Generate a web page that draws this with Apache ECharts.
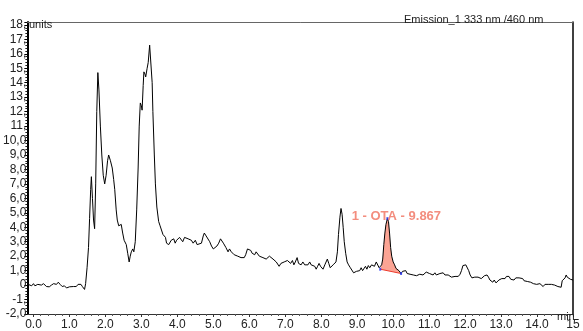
<!DOCTYPE html>
<html>
<head>
<meta charset="utf-8">
<script src="https://cdn.jsdelivr.net/npm/echarts/dist/echarts.min.js"></script>
<style>
html,body{margin:0;padding:0;background:#fff;}
#c{width:583px;height:331px;}
</style>
</head>
<body>
<div id="c"></div>
<script>
// ---- data ----
var times = [-0.15,-0.1,-0.05,0.0,0.04,0.08,0.12,0.17,0.22,0.28,0.32,0.36,0.40,0.44,0.5,0.56,0.6,0.64,0.69,0.74,0.8,0.86,0.92,0.96,1.0,1.05,1.11,1.15,1.19,1.24,1.28,1.32,1.36,1.42,1.45,1.49,1.53,1.56,1.59,1.61,1.64,1.67,1.70,1.73,1.76,1.79,1.82,1.86,1.90,1.94,1.98,2.02,2.06,2.09,2.14,2.19,2.23,2.26,2.30,2.33,2.37,2.40,2.44,2.48,2.52,2.55,2.58,2.62,2.66,2.69,2.72,2.76,2.79,2.83,2.87,2.91,2.94,2.97,3.0,3.02,3.05,3.07,3.10,3.12,3.16,3.19,3.23,3.27,3.30,3.32,3.36,3.39,3.43,3.48,3.52,3.56,3.60,3.64,3.67,3.70,3.72,3.76,3.79,3.83,3.86,3.90,3.94,3.98,4.02,4.06,4.11,4.15,4.2,4.25,4.3,4.35,4.39,4.44,4.5,4.55,4.6,4.67,4.72,4.75,4.8,4.85,4.9,4.95,5.0,5.05,5.1,5.15,5.2,5.24,5.28,5.31,5.35,5.41,5.45,5.5,5.55,5.58,5.63,5.68,5.72,5.77,5.82,5.86,5.9,5.95,6.0,6.04,6.08,6.11,6.15,6.19,6.23,6.28,6.33,6.38,6.43,6.47,6.52,6.56,6.61,6.66,6.7,6.75,6.8,6.83,6.88,6.93,6.97,7.02,7.06,7.11,7.15,7.2,7.24,7.28,7.33,7.37,7.41,7.44,7.49,7.54,7.58,7.63,7.68,7.72,7.77,7.82,7.86,7.9,7.94,7.98,8.02,8.05,8.1,8.14,8.17,8.21,8.25,8.28,8.33,8.37,8.41,8.45,8.48,8.52,8.55,8.58,8.61,8.64,8.68,8.72,8.76,8.81,8.85,8.9,8.94,8.98,9.03,9.07,9.11,9.15,9.19,9.23,9.27,9.31,9.35,9.4,9.44,9.48,9.53,9.57,9.61,9.64,9.68,9.71,9.74,9.77,9.80,9.84,9.87,9.90,9.93,9.96,10.0,10.04,10.08,10.12,10.16,10.22,10.26,10.31,10.35,10.39,10.42,10.47,10.52,10.56,10.6,10.65,10.69,10.74,10.78,10.83,10.88,10.92,10.97,11.01,11.06,11.11,11.16,11.2,11.25,11.3,11.34,11.39,11.44,11.48,11.53,11.58,11.62,11.67,11.72,11.77,11.81,11.86,11.9,11.94,11.98,12.02,12.06,12.1,12.14,12.19,12.23,12.27,12.32,12.36,12.41,12.45,12.5,12.54,12.58,12.61,12.65,12.69,12.72,12.77,12.81,12.86,12.9,12.94,12.97,13.02,13.06,13.11,13.15,13.19,13.22,13.27,13.32,13.36,13.41,13.46,13.5,13.55,13.6,13.64,13.69,13.73,13.78,13.82,13.86,13.9,13.95,13.99,14.03,14.08,14.12,14.17,14.22,14.26,14.31,14.35,14.4,14.44,14.49,14.53,14.58,14.62,14.67,14.7,14.74,14.78,14.81,14.84,14.88,14.93,14.97,15.0];
var signal = [0.05,0.0,-0.05,0.1,-0.05,-0.1,0.05,0.12,0.0,0.1,0.0,-0.1,-0.05,-0.12,0.0,0.1,0.0,0.05,0.2,0.05,-0.1,-0.05,-0.2,-0.1,-0.12,0.0,-0.1,0.0,-0.1,0.05,0.0,0.05,-0.1,-0.3,0.1,1.2,2.6,4.6,6.6,7.5,6.0,4.5,3.9,7.0,12.0,14.7,13.5,11.0,9.0,7.6,7.0,7.6,8.6,9.0,8.6,8.1,7.3,6.6,5.2,4.5,4.1,4.0,4.2,3.6,3.1,3.0,2.8,2.2,1.6,2.0,2.3,2.5,2.3,3.0,5.2,8.1,11.0,12.6,12.4,12.1,13.8,14.75,14.6,14.4,15.0,15.4,16.6,16.6,14.0,12.0,9.0,7.0,5.4,4.4,4.1,4.0,3.5,3.4,3.3,2.9,3.0,2.8,2.9,3.1,3.0,3.2,2.9,3.1,3.0,3.3,3.2,3.0,3.3,3.4,3.2,3.3,3.1,2.9,3.1,2.8,2.8,2.9,3.4,3.6,3.4,3.3,3.0,2.7,2.5,2.6,2.7,2.9,3.2,3.1,2.9,2.8,2.6,2.3,2.5,2.3,2.2,2.1,2.2,2.0,2.0,1.9,2.0,1.9,2.1,2.5,2.6,2.4,2.2,2.3,2.1,2.3,2.2,2.0,2.1,1.9,2.0,1.8,1.9,2.0,1.9,1.8,1.7,1.6,1.5,1.3,1.5,1.4,1.6,1.5,1.7,1.8,1.5,1.7,1.4,1.6,1.9,1.5,1.6,1.4,1.6,1.4,1.5,1.4,1.6,1.4,1.5,1.3,1.1,1.3,1.5,1.3,1.2,1.1,1.4,1.5,1.8,1.5,1.2,1.3,1.4,1.4,1.6,2.3,3.5,4.7,5.3,4.9,4.0,3.0,2.2,1.6,1.4,1.2,1.1,0.85,0.8,0.95,0.85,1.0,1.2,1.0,1.05,1.3,1.1,1.35,1.2,1.4,1.5,1.3,1.6,1.5,1.2,1.1,1.4,1.8,2.8,3.6,4.2,4.6,4.4,3.6,2.6,2.0,1.6,1.4,1.15,1.1,1.0,0.8,0.95,0.9,1.0,0.8,0.8,0.75,0.8,0.7,0.75,0.65,0.6,0.75,0.7,0.7,0.75,0.9,0.85,0.8,0.75,0.7,0.85,0.7,0.75,0.8,0.75,0.85,0.7,0.75,0.7,0.6,0.55,0.45,0.6,0.55,0.6,0.75,1.0,1.35,1.45,1.4,1.35,1.0,0.7,0.5,0.45,0.55,0.6,0.55,0.6,0.45,0.5,0.65,0.6,0.7,0.55,0.35,0.3,0.2,0.35,0.15,0.25,0.35,0.3,0.45,0.35,0.45,0.6,0.55,0.6,0.4,0.45,0.35,0.5,0.6,0.5,0.4,0.45,0.3,0.35,0.25,0.3,0.2,0.15,0.1,0.15,0.05,0.0,0.1,0.0,-0.1,0.05,0.0,0.05,0.1,0.05,0.1,0.0,-0.05,-0.1,0.0,-0.15,0.3,0.2,0.5,0.7,0.55,0.6,0.4,0.35,0.35];

// integrated peak: start, apex, end (time, signal)
var peakStart = [9.64, 1.1];
var peakApex = [9.84, 4.6];
var peakEnd = [10.22, 0.8];
var peakLabel = "1 - OTA - 9.867";

var xTickValues = [0,1,2,3,4,5,6,7,8,9,10,11,12,13,14,15];
var xTickLabels = ["0.0","1.0","2.0","3.0","4.0","5.0","6.0","7.0","8.0","9.0","10.0","11.0","12.0","13.0","14.0","15"];
var yTickValues = [-2,-1,0,1,2,3,4,5,6,7,8,9,10,11,12,13,14,15,16,17,18];
var yTickLabels = ["-2,0","-1,","0","1,0","2,0","3,0","4,0","5,0","6,0","7,0","8,0","9,0","10,0","11,","12,","13,","14,","15,","16,","17,","18,"];

var titleText = "Emission_1 333 nm /460 nm";
var yUnit = "units";
var xUnit = "min";

// ---- build ----
var seriesData = times.map(function(t,i){ return [t, signal[i]]; });
var peakPts = seriesData.filter(function(p){ return p[0] >= peakStart[0] && p[0] <= peakEnd[0]; });
var minorX = [];
for (var k = 0; k <= 75; k++) { var v = Math.round(k*0.2*10)/10; if (Math.abs(v - Math.round(v)) > 1e-6) minorX.push(v); }

var FONT = "'Liberation Sans', Arial, sans-serif";
var chart = echarts.init(document.getElementById('c'), null, {renderer:'canvas'});
chart.setOption({
  animation:false,
  backgroundColor:'#fff',
  grid:{left:27, right:10, top:22, bottom:9, containLabel:false},
  xAxis:[
    {type:'value', min:-0.17, max:15, position:'bottom',
     axisLine:{show:true, onZero:false, lineStyle:{color:'#333', width:1}},
     axisTick:{show:true, customValues:xTickValues, length:3, lineStyle:{color:'#333'}},
     axisLabel:{show:true, customValues:xTickValues, margin:5, fontSize:12, color:'#222', fontFamily:FONT,
       formatter:function(v){ var i = xTickValues.indexOf(Math.round(v)); return i>=0 ? xTickLabels[i] : ''; }},
     splitLine:{show:false}},
    {type:'value', min:-0.17, max:15, position:'bottom',
     axisLine:{show:false, onZero:false},
     axisTick:{show:true, customValues:minorX, length:2, lineStyle:{color:'#555'}},
     axisLabel:{show:false}, splitLine:{show:false}},
    {type:'value', min:-0.17, max:15, position:'top',
     axisLine:{show:true, onZero:false, lineStyle:{color:'#666', width:1}},
     axisTick:{show:false}, axisLabel:{show:false}, splitLine:{show:false}}
  ],
  yAxis:[
    {type:'value', min:-2, max:18.2, interval:1, position:'left',
     axisLine:{show:true, onZero:false, lineStyle:{color:'#000', width:2}},
     axisTick:{show:true, length:3, lineStyle:{color:'#000'}},
     minorTick:{show:true, splitNumber:5, length:2, lineStyle:{color:'#222'}},
     axisLabel:{show:true, margin:1, fontSize:12, color:'#222', fontFamily:FONT, showMaxLabel:false,
       formatter:function(v){ var i = yTickValues.indexOf(Math.round(v)); return (i>=0 && Math.abs(v-Math.round(v))<1e-6) ? yTickLabels[i] : ''; }},
     splitLine:{show:false}},
    {type:'value', min:-2, max:18.2, position:'right',
     axisLine:{show:true, onZero:false, lineStyle:{color:'#000', width:1.5}},
     axisTick:{show:false}, axisLabel:{show:false}, splitLine:{show:false}}
  ],
  graphic:[
    {type:'text', left:404, top:14, z:1, style:{text:titleText, fontSize:11, fill:'#222', fontFamily:FONT}},
    {type:'text', left:29, top:19, z:1, style:{text:yUnit, fontSize:11, fill:'#222', fontFamily:FONT}},
    {type:'text', left:557, top:311, z:1, style:{text:xUnit, fontSize:11, fill:'#222', fontFamily:FONT}}
  ],
  series:[
    {type:'custom', xAxisIndex:0, yAxisIndex:0, z:1, silent:true,
     data:[[peakStart[0], peakStart[1]]],
     renderItem:function(params, api){
       var pts = peakPts.map(function(p){ return api.coord(p); });
       pts.unshift(api.coord(peakStart));
       pts.push(api.coord(peakEnd));
       var a = api.coord(peakStart), b = api.coord(peakEnd);
       return {type:'group', children:[
         {type:'polygon', shape:{points:pts}, style:{fill:'#fba494', stroke:null}},
         {type:'line', shape:{x1:a[0], y1:a[1], x2:b[0], y2:b[1]}, style:{stroke:'#ee3a2c', lineWidth:1}}
       ]};
     }},
    {type:'line', xAxisIndex:0, yAxisIndex:0, z:3, data:seriesData, showSymbol:false, symbol:'none',
     lineStyle:{color:'#000', width:1}, smooth:false},
    {type:'scatter', xAxisIndex:0, yAxisIndex:0, z:4, data:[peakStart, peakApex, peakEnd],
     symbol:'rect', symbolSize:[2,3], itemStyle:{color:'#2233ee'}},
    {type:'scatter', xAxisIndex:0, yAxisIndex:0, z:5, data:[peakApex], symbolSize:0,
     label:{show:true, position:'inside', offset:[9,-2], formatter:peakLabel, fontSize:13, fontWeight:'bold',
       color:'#f0705e', fontFamily:FONT}}
  ]
});
</script>
</body>
</html>
